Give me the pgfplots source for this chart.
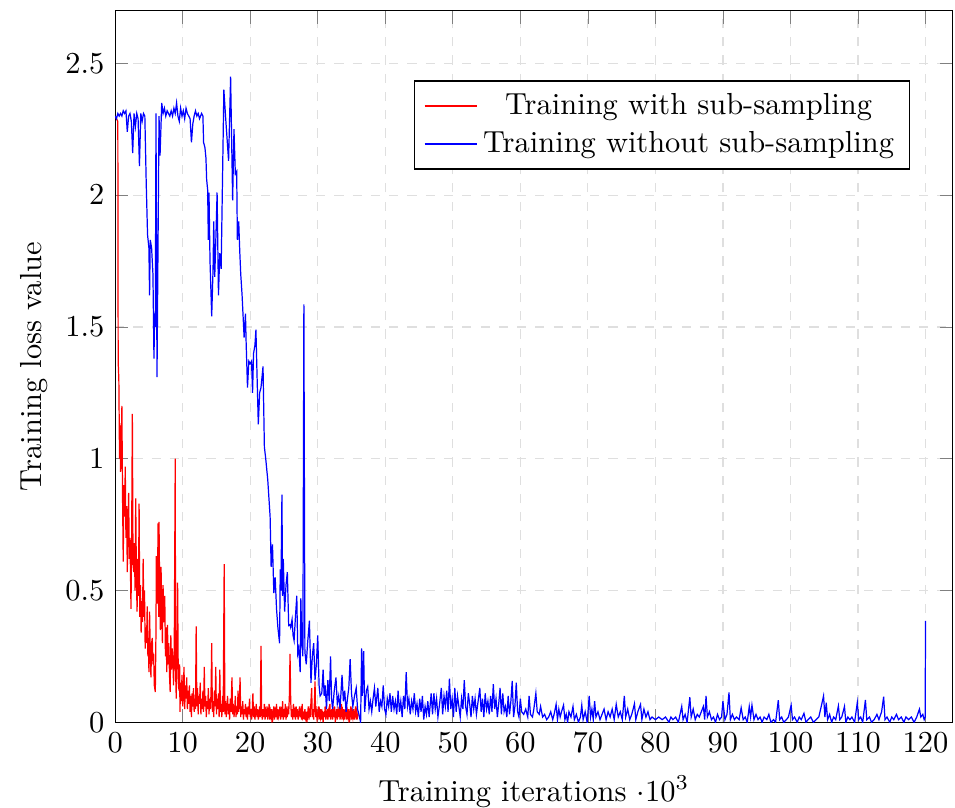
\documentclass[border={3.3pt 0pt -1.15pt 3.3pt}]{standalone}
\usepackage{pgfplots}
\pgfplotsset{compat=1.18}
\begin{document}
\begin{tikzpicture}
    \begin{axis}[
            scale only axis,
            width=275pt,
            height=233.7pt,
            xmin=0, xmax=124,
            ymin=0, ymax=2.7,
            xtick={0,10,...,120},
            ytick={0,0.5,1,1.5,2,2.5},
            xlabel={Training iterations $\cdot 10^3$},
            ylabel={Training loss value},
            xlabel style={inner sep=0pt, yshift=-4.2pt},
            ylabel style={yshift=-1pt},
            grid=major,
            grid style={dashed, gray!25},
            legend cell align=center,
            legend style={at={(0.949,0.902)}, anchor=north east},
            no markers,
        ]
        % with sub-sampling
        \addplot[red] coordinates {
            (0,2.30) (0.2,2.29) (0.4,2.28) (0.45,1.37) (0.55,1.30) (0.65,1.00) (0.7,1.135) (0.8,0.95) (0.9,1.02) (1.0,1.20)
            (1.1,0.85) (1.2,0.61) (1.3,0.90) (1.4,0.78) (1.5,0.97) (1.6,0.70) (1.7,0.82) (1.8,0.57) (1.9,0.75) (2.0,0.87)
            (2.1,0.62) (2.2,0.70) (2.35,0.43) (2.45,0.72) (2.55,1.17) (2.65,0.60) (2.75,0.57) (2.85,0.68) (2.95,0.50) (3.05,0.85)
            (3.15,0.55) (3.25,0.42) (3.35,0.62) (3.45,0.48) (3.55,0.83) (3.65,0.40) (3.75,0.52) (3.85,0.34) (3.95,0.46) (4.05,0.38)
            (4.15,0.62) (4.25,0.40) (4.35,0.50) (4.45,0.28) (4.55,0.36) (4.65,0.30) (4.75,0.44) (4.85,0.25) (4.95,0.32) (5.0,0.19)
            (5.1,0.42) (5.2,0.28) (5.3,0.17) (5.4,0.30) (5.5,0.32) (5.6,0.22) (5.7,0.26) (5.8,0.14) (5.95,0.115) (6.05,0.35)
            (6.1,0.63) (6.2,0.45) (6.3,0.56) (6.35,0.755) (6.45,0.40) (6.5,0.76) (6.6,0.48) (6.7,0.35) (6.8,0.59) (6.9,0.42)
            (7.0,0.30) (7.1,0.52) (7.2,0.38) (7.35,0.48) (7.45,0.25) (7.55,0.36) (7.65,0.19) (7.75,0.37) (7.85,0.22) (7.95,0.30)
            (8.05,0.18) (8.15,0.115) (8.25,0.33) (8.35,0.20) (8.45,0.28) (8.55,0.24) (8.65,0.14) (8.75,0.26) (8.9,1.0) (8.95,0.20)
            (9.05,0.09) (9.15,0.28) (9.25,0.53) (9.35,0.17) (9.45,0.12) (9.55,0.22) (9.6,0.04) (9.7,0.15) (9.8,0.08) (9.9,0.18)
            (10.0,0.06) (10.1,0.12) (10.2,0.21) (10.3,0.05) (10.4,0.14) (10.5,0.09) (10.6,0.17) (10.7,0.05) (10.8,0.12) (10.9,0.07)
            (11.0,0.14) (11.1,0.04) (11.2,0.10) (11.3,0.02) (11.4,0.11) (11.5,0.06) (11.6,0.13) (11.7,0.04) (11.8,0.09) (11.9,0.05)
            (12.0,0.364) (12.1,0.06) (12.2,0.13) (12.3,0.03) (12.4,0.10) (12.5,0.07) (12.6,0.15) (12.7,0.03) (12.8,0.09) (12.9,0.05)
            (13.0,0.12) (13.1,0.04) (13.2,0.21) (13.3,0.06) (13.4,0.10) (13.5,0.02) (13.6,0.08) (13.7,0.05) (13.8,0.13) (13.9,0.03)
            (14.0,0.09) (14.1,0.05) (14.2,0.11) (14.3,0.30) (14.4,0.04) (14.5,0.08) (14.6,0.02) (14.7,0.12) (14.8,0.06) (14.9,0.21)
            (15.0,0.03) (15.1,0.09) (15.2,0.05) (15.3,0.11) (15.4,0.02) (15.5,0.20) (15.6,0.04) (15.7,0.07) (15.8,0.02) (15.9,0.10)
            (16.0,0.04) (16.15,0.60) (16.25,0.03) (16.35,0.08) (16.45,0.02) (16.55,0.06) (16.65,0.10) (16.75,0.03) (16.85,0.07) (16.95,0.01)
            (17.05,0.09) (17.15,0.04) (17.3,0.17) (17.4,0.03) (17.5,0.07) (17.6,0.02) (17.7,0.05) (17.8,0.10) (17.9,0.02) (18.0,0.06)
            (18.1,0.03) (18.2,0.12) (18.3,0.04) (18.4,0.08) (18.5,0.17) (18.6,0.02) (18.7,0.06) (18.8,0.03) (18.9,0.08) (19.0,0.01)
            (19.1,0.05) (19.2,0.03) (19.3,0.07) (19.4,0.02) (19.5,0.04) (19.6,0.01) (19.7,0.06) (19.8,0.03) (19.9,0.09) (20.0,0.02)
            (20.1,0.05) (20.2,0.01) (20.3,0.04) (20.4,0.11) (20.5,0.02) (20.6,0.06) (20.7,0.01) (20.8,0.04) (20.9,0.07) (21.0,0.02)
            (21.1,0.05) (21.2,0.01) (21.3,0.03) (21.4,0.06) (21.5,0.02) (21.6,0.29) (21.7,0.03) (21.8,0.01) (21.9,0.05) (22.0,0.02)
            (22.1,0.07) (22.2,0.01) (22.3,0.04) (22.4,0.02) (22.5,0.06) (22.6,0.01) (22.7,0.03) (22.8,0.07) (22.9,0.01) (23.0,0.04)
            (23.1,0.02) (23.2,0.05) (23.3,0.00) (23.4,0.03) (23.5,0.06) (23.6,0.01) (23.7,0.04) (23.8,0.02) (23.9,0.07) (24.0,0.01)
            (24.1,0.05) (24.2,0.02) (24.3,0.03) (24.4,0.06) (24.5,0.01) (24.6,0.04) (24.7,0.02) (24.8,0.08) (24.9,0.01) (25.0,0.05)
            (25.1,0.02) (25.2,0.07) (25.3,0.01) (25.4,0.04) (25.5,0.02) (25.6,0.06) (25.7,0.03) (25.8,0.10) (25.9,0.26) (26.0,0.08)
            (26.1,0.02) (26.2,0.05) (26.3,0.01) (26.4,0.07) (26.5,0.02) (26.6,0.04) (26.7,0.01) (26.8,0.06) (26.9,0.02) (27.0,0.05)
            (27.1,0.01) (27.2,0.03) (27.3,0.06) (27.4,0.02) (27.5,0.04) (27.6,0.01) (27.7,0.07) (27.8,0.02) (27.9,0.03) (28.0,0.01)
            (28.1,0.05) (28.2,0.02) (28.3,0.04) (28.4,0.00) (28.5,0.03) (28.6,0.06) (28.7,0.01) (28.8,0.04) (28.9,0.02) (29.0,0.08)
            (29.1,0.13) (29.2,0.02) (29.3,0.05) (29.4,0.01) (29.5,0.07) (29.6,0.155) (29.7,0.02) (29.8,0.04) (29.9,0.01) (30.0,0.03)
            (30.1,0.06) (30.2,0.01) (30.3,0.04) (30.4,0.02) (30.5,0.05) (30.6,0.01) (30.7,0.03) (30.8,0.00) (30.9,0.04) (31.0,0.02)
            (31.1,0.06) (31.2,0.01) (31.3,0.03) (31.4,0.05) (31.5,0.01) (31.6,0.04) (31.7,0.02) (31.8,0.07) (31.9,0.01) (32.0,0.03)
            (32.1,0.05) (32.2,0.01) (32.3,0.04) (32.4,0.02) (32.5,0.06) (32.6,0.00) (32.7,0.03) (32.8,0.05) (32.9,0.01) (33.0,0.04)
            (33.1,0.02) (33.2,0.06) (33.3,0.01) (33.4,0.03) (33.5,0.07) (33.6,0.01) (33.7,0.04) (33.8,0.02) (33.9,0.05) (34.0,0.01)
            (34.1,0.03) (34.2,0.06) (34.3,0.01) (34.4,0.04) (34.5,0.02) (34.6,0.05) (34.7,0.00) (34.8,0.03) (34.9,0.06) (35.0,0.01)
            (35.1,0.04) (35.2,0.02) (35.3,0.05) (35.4,0.01) (35.5,0.03) (35.6,0.06) (35.7,0.01) (35.8,0.04) (35.9,0.02) (36.0,0.03)
        };
        \addlegendentry{Training with sub-sampling}
        % without sub-sampling
        \addplot[blue] coordinates {
            (0,2.30) (0.2,2.29) (0.4,2.31) (0.6,2.30) (0.8,2.31) (1.0,2.30) (1.2,2.32) (1.4,2.31) (1.6,2.32) (1.8,2.24)
            (2.0,2.30) (2.2,2.31) (2.4,2.28) (2.6,2.16) (2.8,2.31) (3.0,2.26) (3.2,2.31) (3.4,2.29) (3.6,2.11) (3.8,2.31)
            (4.0,2.28) (4.2,2.31) (4.4,2.30) (4.6,2.05) (4.8,1.85) (5.0,1.80) (5.1,1.62) (5.2,1.83) (5.4,1.80) (5.6,1.70)
            (5.75,1.38) (5.85,1.55) (5.95,1.50) (6.05,2.31) (6.2,1.31) (6.5,2.30) (6.65,2.15) (6.9,2.35) (7.1,2.31) (7.3,2.33)
            (7.5,2.30) (7.7,2.32) (7.9,2.31) (8.1,2.30) (8.3,2.32) (8.5,2.30) (8.7,2.33) (8.9,2.31) (9.1,2.35) (9.3,2.30)
            (9.5,2.28) (9.7,2.33) (9.9,2.30) (10.1,2.32) (10.3,2.29) (10.5,2.33) (10.7,2.31) (10.9,2.30) (11.1,2.29) (11.3,2.20)
            (11.5,2.27) (11.7,2.30) (11.9,2.32) (12.1,2.30) (12.3,2.31) (12.5,2.29) (12.8,2.31) (13.0,2.30) (13.1,2.20) (13.3,2.18)
            (13.45,2.14) (13.55,2.06) (13.7,2.02) (13.8,1.83) (13.9,2.01) (14.05,1.75) (14.3,1.54) (14.5,1.72) (14.6,1.90) (14.75,1.69)
            (14.9,1.82) (15.1,2.01) (15.3,1.62) (15.5,1.78) (15.7,1.72) (16.1,2.40) (16.4,2.28) (16.8,2.13) (17.1,2.45) (17.4,1.98)
            (17.6,2.25) (17.8,2.08) (18.0,2.09) (18.1,1.83) (18.3,1.90) (18.45,1.79) (18.6,1.70) (18.8,1.62) (18.95,1.54) (19.1,1.46)
            (19.3,1.55) (19.4,1.44) (19.6,1.27) (19.8,1.37) (20.0,1.36) (20.2,1.37) (20.35,1.25) (20.5,1.40) (20.7,1.43) (20.85,1.49)
            (21.0,1.33) (21.2,1.13) (21.4,1.25) (21.6,1.27) (21.9,1.35) (22.1,1.045) (22.3,1.00) (22.6,0.92) (22.95,0.78) (23.1,0.59)
            (23.3,0.675) (23.5,0.49) (23.7,0.55) (23.9,0.43) (24.1,0.36) (24.35,0.30) (24.45,0.58) (24.55,0.50) (24.7,0.864) (24.8,0.48)
            (24.9,0.62) (25.1,0.42) (25.3,0.52) (25.5,0.57) (25.7,0.367) (25.9,0.37) (26.0,0.36) (26.2,0.39) (26.35,0.33) (26.5,0.31)
            (26.7,0.40) (26.9,0.48) (27.05,0.26) (27.2,0.28) (27.4,0.19) (27.5,0.47) (27.65,0.30) (27.8,0.25) (27.95,1.586) (28.1,0.267)
            (28.3,0.22) (28.5,0.30) (28.77,0.386) (29.0,0.15) (29.2,0.25) (29.4,0.30) (29.6,0.16) (29.8,0.22) (30.0,0.33) (30.2,0.14)
            (30.35,0.10) (30.6,0.11) (30.8,0.20) (30.95,0.10) (31.1,0.14) (31.3,0.05) (31.5,0.16) (31.7,0.08) (31.9,0.25) (32.05,0.09)
            (32.2,0.05) (32.45,0.12) (32.7,0.17) (32.9,0.07) (33.1,0.10) (33.3,0.05) (33.6,0.18) (33.8,0.08) (34.0,0.12) (34.2,0.04)
            (34.4,0.09) (34.6,0.13) (34.8,0.24) (35.0,0.11) (35.2,0.06) (35.45,0.10) (35.7,0.13) (35.9,0.05) (36.1,0.03) (36.35,0.00)
            (36.5,0.28) (36.6,0.10) (36.8,0.27) (36.95,0.04) (37.2,0.12) (37.4,0.135) (37.6,0.05) (37.8,0.08) (38.0,0.04) (38.2,0.09)
            (38.4,0.13) (38.6,0.06) (38.9,0.13) (39.1,0.04) (39.3,0.08) (39.5,0.06) (39.7,0.14) (39.9,0.05) (40.1,0.03) (40.3,0.09)
            (40.5,0.06) (40.7,0.11) (40.9,0.04) (41.1,0.10) (41.3,0.05) (41.5,0.08) (41.7,0.03) (41.9,0.12) (42.1,0.04) (42.3,0.08)
            (42.5,0.02) (42.7,0.10) (42.9,0.05) (43.1,0.19) (43.3,0.06) (43.5,0.09) (43.7,0.03) (43.9,0.08) (44.1,0.05) (44.3,0.11)
            (44.5,0.04) (44.7,0.07) (44.9,0.02) (45.1,0.09) (45.3,0.04) (45.5,0.10) (45.7,0.01) (45.9,0.06) (46.1,0.03) (46.3,0.08)
            (46.5,0.02) (46.8,0.11) (47.0,0.03) (47.2,0.11) (47.4,0.05) (47.6,0.09) (47.8,0.02) (48.0,0.06) (48.3,0.13) (48.5,0.03)
            (48.7,0.10) (48.9,0.06) (49.1,0.12) (49.3,0.04) (49.5,0.166) (49.7,0.05) (49.9,0.09) (50.1,0.02) (50.3,0.13) (50.5,0.04)
            (50.7,0.10) (50.9,0.06) (51.1,0.02) (51.3,0.09) (51.5,0.05) (51.7,0.16) (51.9,0.06) (52.1,0.03) (52.3,0.11) (52.5,0.07)
            (52.7,0.02) (52.9,0.10) (53.1,0.05) (53.3,0.09) (53.5,0.03) (53.7,0.07) (54.0,0.13) (54.2,0.04) (54.4,0.09) (54.6,0.02)
            (54.8,0.11) (55.0,0.05) (55.2,0.08) (55.4,0.03) (55.6,0.10) (55.8,0.04) (56.0,0.145) (56.2,0.05) (56.4,0.09) (56.6,0.02)
            (56.8,0.07) (57.0,0.13) (57.2,0.03) (57.4,0.11) (57.6,0.04) (57.8,0.06) (58.0,0.02) (58.2,0.10) (58.4,0.03) (58.6,0.08)
            (58.8,0.157) (59.0,0.02) (59.2,0.06) (59.4,0.15) (59.6,0.04) (59.8,0.02) (60.0,0.09) (60.2,0.04) (60.5,0.03) (60.8,0.05)
            (61.1,0.02) (61.3,0.10) (61.5,0.03) (61.8,0.02) (62.0,0.05) (62.3,0.11) (62.5,0.04) (62.8,0.03) (63.0,0.06) (63.3,0.02)
            (63.6,0.03) (63.9,0.01) (64.2,0.02) (64.5,0.04) (64.8,0.01) (65.0,0.03) (65.3,0.068) (65.5,0.01) (65.7,0.05) (65.9,0.02)
            (66.1,0.04) (66.4,0.065) (66.6,0.01) (66.8,0.03) (67.0,0.00) (67.2,0.04) (67.5,0.02) (67.8,0.06) (68.0,0.01) (68.3,0.03)
            (68.6,0.00) (68.9,0.02) (69.1,0.065) (69.3,0.01) (69.6,0.04) (69.9,0.00) (70.2,0.10) (70.4,0.02) (70.6,0.05) (70.8,0.01)
            (71.0,0.08) (71.2,0.02) (71.5,0.04) (71.8,0.01) (72.1,0.03) (72.4,0.05) (72.7,0.01) (73.0,0.04) (73.3,0.02) (73.6,0.05)
            (73.9,0.01) (74.2,0.068) (74.5,0.02) (74.8,0.04) (75.1,0.01) (75.4,0.10) (75.6,0.02) (75.9,0.05) (76.2,0.01) (76.5,0.03)
            (76.9,0.07) (77.1,0.01) (77.4,0.04) (77.8,0.068) (78.0,0.01) (78.3,0.05) (78.6,0.02) (78.9,0.04) (79.2,0.01) (79.5,0.02)
            (80.0,0.01) (80.5,0.02) (81.0,0.01) (81.5,0.02) (82.0,0.00) (82.3,0.02) (82.6,0.01) (83.0,0.02) (83.4,0.00) (83.9,0.06)
            (84.1,0.01) (84.4,0.03) (84.7,0.00) (85.1,0.095) (85.3,0.02) (85.6,0.05) (85.9,0.01) (86.2,0.03) (86.5,0.02) (86.8,0.04)
            (87.1,0.06) (87.3,0.01) (87.5,0.10) (87.7,0.02) (88.0,0.04) (88.3,0.01) (88.6,0.02) (88.9,0.00) (89.2,0.03) (89.5,0.01)
            (89.8,0.02) (90.0,0.08) (90.3,0.01) (90.6,0.03) (90.9,0.113) (91.1,0.01) (91.4,0.03) (91.7,0.01) (92.0,0.02) (92.4,0.01)
            (92.7,0.055) (93.0,0.01) (93.3,0.02) (93.6,0.00) (93.9,0.06) (94.1,0.02) (94.3,0.065) (94.6,0.01) (94.9,0.03) (95.2,0.01)
            (95.5,0.02) (95.8,0.00) (96.1,0.02) (96.5,0.01) (96.8,0.03) (97.1,0.00) (97.5,0.01) (97.8,0.00) (98.2,0.084) (98.4,0.01)
            (98.7,0.02) (99.0,0.00) (99.4,0.01) (99.7,0.02) (100.1,0.065) (100.3,0.01) (100.6,0.02) (101.0,0.00) (101.3,0.02) (101.6,0.01)
            (102.0,0.034) (102.3,0.00) (102.6,0.01) (103.0,0.02) (103.4,0.00) (103.8,0.01) (104.2,0.02) (104.6,0.065) (104.9,0.10) (105.1,0.02)
            (105.3,0.074) (105.5,0.01) (105.8,0.03) (106.1,0.00) (106.4,0.02) (106.7,0.01) (107.1,0.062) (107.3,0.01) (107.6,0.02) (108.0,0.06)
            (108.2,0.00) (108.5,0.02) (108.8,0.01) (109.1,0.02) (109.5,0.00) (109.9,0.075) (110.1,0.01) (110.4,0.02) (110.7,0.00) (111.1,0.085)
            (111.3,0.01) (111.7,0.02) (112.0,0.00) (112.4,0.01) (112.8,0.03) (113.1,0.01) (113.5,0.04) (113.8,0.097) (114.0,0.01) (114.3,0.02)
            (114.7,0.00) (115.0,0.02) (115.3,0.01) (115.7,0.03) (116.0,0.01) (116.4,0.02) (116.8,0.00) (117.1,0.02) (117.5,0.01) (117.9,0.02)
            (118.3,0.00) (118.7,0.02) (119.1,0.05) (119.3,0.02) (119.6,0.03) (119.8,0.01) (119.95,0.02) (120.0,0.385)
        };
        \addlegendentry{Training without sub-sampling}
    \end{axis}
\end{tikzpicture}
\end{document}
